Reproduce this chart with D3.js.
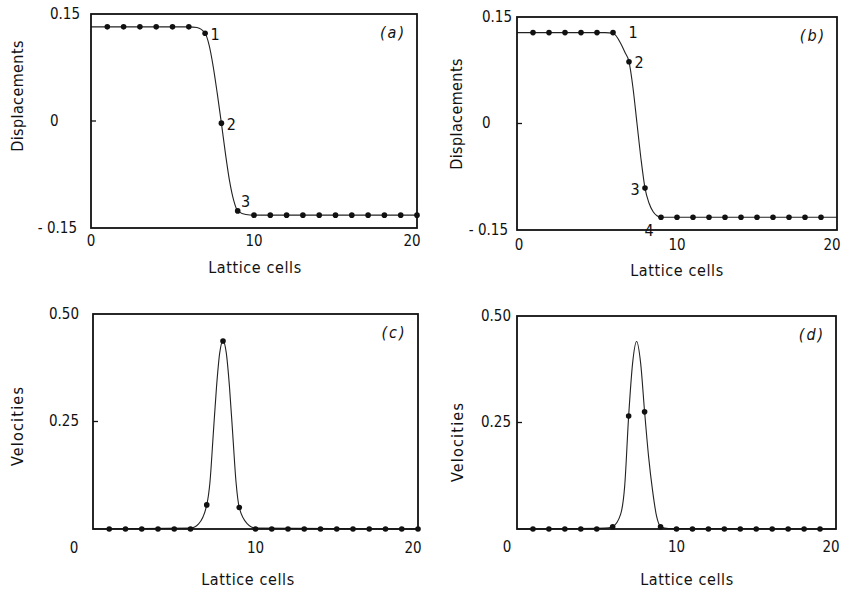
<!DOCTYPE html>
<html>
<head>
<meta charset="utf-8">
<script src="https://cdn.jsdelivr.net/npm/d3@7"></script>
<style>
  body { margin: 0; background: #fff; }
  svg text { font-family: "DejaVu Sans Condensed", "DejaVu Sans", sans-serif; fill: #111; }
</style>
</head>
<body>
<svg id="chart"></svg>
<script>
// ---- data ----
let cells20 = [1, 2, 3, 4, 5, 6, 7, 8, 9, 10, 11, 12, 13, 14, 15, 16, 17, 18, 19, 20];
let cells19 = [1, 2, 3, 4, 5, 6, 7, 8, 9, 10, 11, 12, 13, 14, 15, 16, 17, 18, 19];

// (a) displacements
let dispA = [0.132, 0.132, 0.132, 0.132, 0.132, 0.132, 0.123, -0.003, -0.126, -0.132,
             -0.132, -0.132, -0.132, -0.132, -0.132, -0.132, -0.132, -0.132, -0.132, -0.132];
let curveXA = [0, 6, 6.5, 7, 7.25, 7.5, 7.75, 8, 8.25, 8.5, 8.75, 9, 9.5, 10, 20];
let curveA  = [0.132, 0.132, 0.131, 0.123, 0.106, 0.076, 0.038, -0.003, -0.046, -0.084, -0.111, -0.126, -0.131, -0.132, -0.132];
let markA = [7, 8, 9];           // numbered cells
let markLabelsA = ["1", "2", "3"];

// (b) displacements
let dispB = [0.128, 0.128, 0.128, 0.128, 0.128, 0.128, 0.087, -0.091, -0.132, -0.132,
             -0.132, -0.132, -0.132, -0.132, -0.132, -0.132, -0.132, -0.132, -0.132];
let curveXB = [0, 5.5, 6, 6.5, 6.75, 7, 7.25, 7.5, 7.75, 8, 8.25, 8.5, 8.75, 9, 9.5, 20];
let curveB  = [0.128, 0.128, 0.127, 0.112, 0.1, 0.087, 0.05, 0.0, -0.05, -0.091, -0.112, -0.124, -0.13, -0.132, -0.132, -0.132];
let markB = [6, 7, 8, 9];
let markLabelsB = ["1", "2", "3", "4"];

// (c) velocities
let velC = [0, 0, 0, 0, 0, 0, 0.056, 0.437, 0.05, 0,
            0, 0, 0, 0, 0, 0, 0, 0, 0, 0];
let curveXC = [0, 6, 6.5, 7, 7.2, 7.4, 7.6, 7.8, 8, 8.2, 8.4, 8.6, 8.8, 9, 9.5, 10, 20];
let curveC  = [0, 0.002, 0.012, 0.056, 0.11, 0.22, 0.33, 0.41, 0.437, 0.41, 0.33, 0.22, 0.11, 0.05, 0.012, 0.002, 0];

// (d) velocities
let velD = [0, 0, 0, 0, 0, 0.005, 0.265, 0.275, 0.005, 0,
            0, 0, 0, 0, 0, 0, 0, 0, 0];
let curveXD = [0, 5.5, 6, 6.5, 6.75, 7, 7.25, 7.5, 7.75, 8, 8.25, 8.5, 8.75, 9, 9.5, 20];
let curveD  = [0, 0.002, 0.006, 0.035, 0.1, 0.265, 0.39, 0.44, 0.39, 0.275, 0.17, 0.09, 0.03, 0.006, 0.001, 0];

let xTicks = [0, 10, 20];
let dispTicks = [0.15, 0, -0.15];
let velTicks = [0.50, 0.25];
let panelNames = ["(a)", "(b)", "(c)", "(d)"];

// ---- layout ----
let width = 848;
let height = 591;

let svg = d3.select("#chart").attr("width", width).attr("height", height);

let panels = [
  { name: panelNames[0], left: 91, right: 417, top: 14, bottom: 228, yDomain: [-0.15, 0.15],
    yTicks: dispTicks, midTick: 0, yTitle: "Displacements", titleX: 18, titleCY: 96, yLabStart: 41, negEnd: 14,
    xs: cells20, ys: dispA, cx: curveXA, cy: curveA, marks: markA, markLabels: markLabelsA,
    markOff: [[10, 2], [10, 2], [8, -8]], xLabY: 241, zeroDx: 0, xTitleX: 255, xTitleY: 268 },
  { name: panelNames[1], left: 517, right: 837, top: 17, bottom: 230, yDomain: [-0.15, 0.15],
    yTicks: dispTicks, midTick: 0, yTitle: "Displacements", titleX: 457, titleCY: 114, yLabStart: 35, negEnd: 9,
    xs: cells19, ys: dispB, cx: curveXB, cy: curveB, marks: markB, markLabels: markLabelsB,
    markOff: [[20, 1], [10, 2], [-10, 2], [-12, 14]], xLabY: 245, zeroDx: 2, xTitleX: 677, xTitleY: 271 },
  { name: panelNames[2], left: 93, right: 418, top: 314, bottom: 529, yDomain: [0, 0.5],
    yTicks: velTicks, midTick: 0.25, yTitle: "Velocities", titleX: 18, titleCY: 426, yLabStart: 44, negEnd: 0,
    xs: cells20, ys: velC, cx: curveXC, cy: curveC, marks: [], markLabels: [],
    markOff: [], xLabY: 548, zeroDx: -19, xTitleX: 248, xTitleY: 580 },
  { name: panelNames[3], left: 517, right: 836, top: 316, bottom: 529, yDomain: [0, 0.5],
    yTicks: velTicks, midTick: 0.25, yTitle: "Velocities", titleX: 458, titleCY: 442, yLabStart: 36, negEnd: 0,
    xs: cells19, ys: velD, cx: curveXD, cy: curveD, marks: [], markLabels: [],
    markOff: [], xLabY: 547, zeroDx: -10, xTitleX: 687, xTitleY: 580 }
];

let drawPanel = (p) => {
  let g = svg.append("g");

  let xScale = d3.scaleLinear().domain([0, 20]).range([p.left, p.right]);
  let yScale = d3.scaleLinear().domain(p.yDomain).range([p.bottom, p.top]);

  // curve
  let line = d3.line()
    .x((d, i) => xScale(p.cx[i]))
    .y((d, i) => yScale(p.cy[i]))
    .curve(d3.curveMonotoneX);
  g.append("path")
    .datum(p.cx)
    .attr("d", line)
    .attr("fill", "none")
    .attr("stroke", "#222")
    .attr("stroke-width", 1.1);

  // frame
  g.append("rect")
    .attr("x", p.left).attr("y", p.top)
    .attr("width", p.right - p.left).attr("height", p.bottom - p.top)
    .attr("fill", "none").attr("stroke", "#111").attr("stroke-width", 1.8);

  // inner tick
  g.append("line")
    .attr("x1", p.left).attr("x2", p.left + 5)
    .attr("y1", yScale(p.midTick)).attr("y2", yScale(p.midTick))
    .attr("stroke", "#111").attr("stroke-width", 1.3);

  // dots
  g.selectAll("circle")
    .data(p.xs)
    .enter()
    .append("circle")
    .attr("cx", (d) => xScale(d))
    .attr("cy", (d, i) => yScale(p.ys[i]))
    .attr("r", 2.8)
    .attr("fill", "#111");

  // numbered points
  p.marks.forEach((m, i) => {
    g.append("text")
      .attr("x", xScale(m) + p.markOff[i][0])
      .attr("y", yScale(p.ys[m - 1]) + p.markOff[i][1])
      .attr("text-anchor", "middle")
      .attr("dominant-baseline", "middle")
      .attr("font-size", 16)
      .text(p.markLabels[i]);
  });

  // y tick labels
  p.yTicks.forEach((v) => {
    let t = g.append("text")
      .attr("y", yScale(v))
      .attr("dominant-baseline", "middle")
      .attr("font-size", 15);
    if (v < 0) {
      t.attr("x", p.left - p.negEnd).attr("text-anchor", "end").text("- " + Math.abs(v).toFixed(2));
    } else {
      t.attr("x", p.left - p.yLabStart).attr("text-anchor", "start").text(v === 0 ? "0" : v.toFixed(2));
    }
  });

  // x tick labels
  xTicks.forEach((v) => {
    let dx = v === 0 ? p.zeroDx : (v === 20 ? -5 : 0);
    g.append("text")
      .attr("x", xScale(v) + dx)
      .attr("y", p.xLabY)
      .attr("text-anchor", "middle")
      .attr("dominant-baseline", "middle")
      .attr("font-size", 15)
      .text(v);
  });

  // axis titles
  g.append("text")
    .attr("x", p.xTitleX)
    .attr("y", p.xTitleY)
    .attr("text-anchor", "middle")
    .attr("dominant-baseline", "middle")
    .attr("font-size", 16)
    .attr("letter-spacing", 0.6)
    .text("Lattice cells");

  g.append("text")
    .attr("transform", "translate(" + p.titleX + "," + p.titleCY + ") rotate(-90)")
    .attr("text-anchor", "middle")
    .attr("dominant-baseline", "middle")
    .attr("font-size", 16)
    .attr("letter-spacing", p.yTitle === "Velocities" ? 1.2 : 0.4)
    .text(p.yTitle);

  // panel letter
  g.append("text")
    .attr("x", p.right - 24)
    .attr("y", p.top + 19)
    .attr("text-anchor", "middle")
    .attr("dominant-baseline", "middle")
    .attr("font-size", 16)
    .attr("font-style", "italic")
    .attr("letter-spacing", 2)
    .text(p.name);
};

panels.forEach(drawPanel);
</script>
</body>
</html>
